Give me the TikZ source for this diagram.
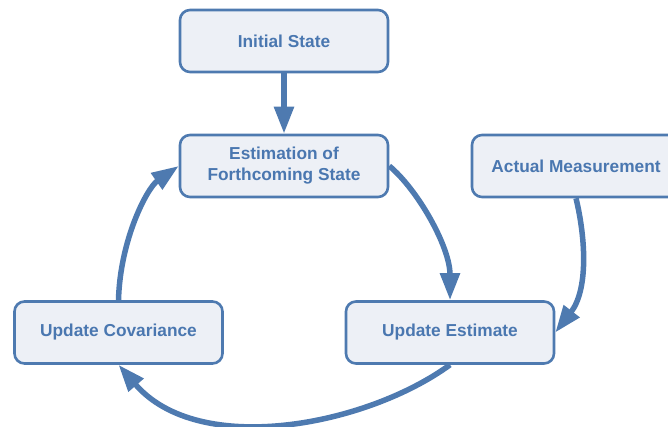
\documentclass[tikz,border=0pt]{standalone}
\usepackage{fontspec}
\setmainfont{Liberation Sans}
\usetikzlibrary{arrows.meta}
\definecolor{flowblue}{HTML}{4E7AB0}
\definecolor{boxfill}{HTML}{EDF0F6}
\definecolor{labelblue}{HTML}{4A77B0}
\begin{document}
\begin{tikzpicture}[x=1pt,y=-1pt,
  stage/.style={draw=flowblue, line width=2.6pt, fill=boxfill, rounded corners=10pt,
    minimum width=208pt, minimum height=62pt, inner sep=0pt, align=center,
    text=labelblue, font=\fontsize{17.3}{21}\selectfont\bfseries},
  flow/.style={draw=flowblue, line width=5.5pt,
    -{Triangle[length=27pt,width=19pt]}}]
  \clip (0,0) rectangle (668,427);
  % process stages
  \node[stage] (init) at (284,41) {Initial State};
  \node[stage] (pred) at (284,166) {Estimation of\\Forthcoming State};
  \node[stage] (meas) at (576,166) {Actual Measurement};
  \node[stage] (upest) at (450,332.5) {Update Estimate};
  \node[stage] (upcov) at (118.5,332.5) {Update Covariance};
  % connectors
  \draw[flow] (init.south) -- (pred.north);
  \draw[flow] (pred.east) .. controls (418,190) and (450,247) .. (upest.north);
  \draw[flow] (meas.south) .. controls (586,240) and (588,290) .. (upest.east);
  \draw[flow] (upest.south) .. controls (366,426) and (199,458) .. (upcov.south);
  \draw[flow] (upcov.north) .. controls (120,240) and (147,188) .. (pred.west);
\end{tikzpicture}
\end{document}
